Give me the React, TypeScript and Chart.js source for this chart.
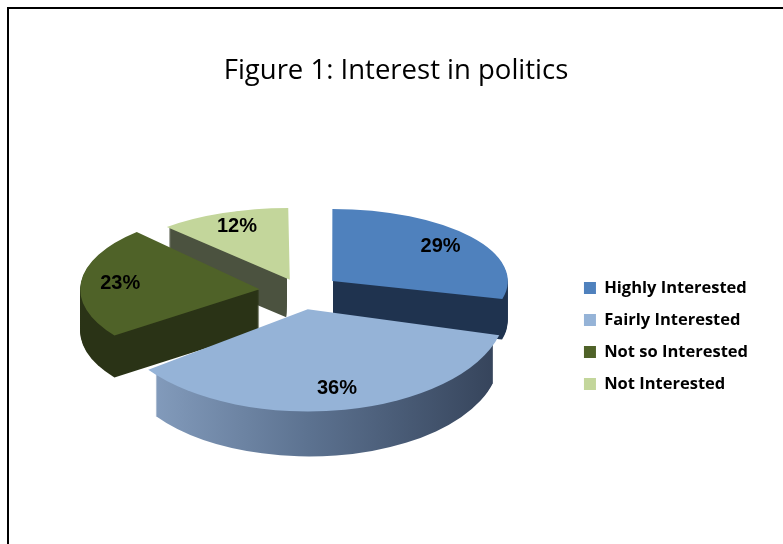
import React, { useEffect, useRef } from 'react';
import { Chart, registerables } from 'chart.js';

Chart.register(...registerables);

const TITLE = 'Figure 1: Interest in politics';
const CATEGORIES = ['Highly Interested', 'Fairly Interested', 'Not so Interested', 'Not Interested'];
const PERCENTAGES = [29, 36, 23, 12];
const TOP_COLORS = ['#4f81bd', '#95b3d7', '#4f6228', '#c3d69b'];
const SIDE_STOPS = [
  ['#1f334f', '#1f334f'],
  ['#8ba4c5', '#5c7290', '#35435a'],
  ['#2a3316', '#2a3316'],
  ['#4b523f', '#4b523f'],
];
const EXPLODE = [163, 136, 167, 128];

// view (pseudo-3D projection) settings
const VIEW = { cx: 301, cy: 291, tilt: 0.444, persH: 2500, persV: 700, depth: 42.5, labelR: 0.78 };

function sliceView(arc: any) {
  const { x, y, startAngle, endAngle, outerRadius } = arc;
  const circ = endAngle - startAngle;
  const off = (arc.options.offset || 0) / 4;
  const fix = 1 - Math.sin(Math.min(Math.PI, circ));
  const t = off * (1 + fix);
  const half = (startAngle + endAngle) / 2;
  const vx = x + Math.cos(half) * t;
  const vy = y + Math.sin(half) * t;
  const w = vy - y + Math.sin(half) * outerRadius * 0.5;
  const ph = VIEW.persH / (VIEW.persH - w);
  const pv = VIEW.persV / (VIEW.persV - w);
  return {
    vx, vy, half, R: outerRadius, startAngle, endAngle, ph, pv,
    sx: VIEW.cx + (vx - x) * ph,
    sy: VIEW.cy + (vy - y) * VIEW.tilt * pv,
    depth: VIEW.depth * ph,
  };
}

function applyView(ctx: CanvasRenderingContext2D, v: any, dy: number) {
  ctx.translate(v.sx, v.sy + dy);
  ctx.scale(v.ph, VIEW.tilt * v.pv);
  ctx.translate(-v.vx, -v.vy);
}

const pie3d = {
  id: 'pie3d',
  beforeDatasetsDraw(chart: any) {
    const ctx: CanvasRenderingContext2D = chart.ctx;
    const meta = chart.getDatasetMeta(0);
    const items = meta.data
      .map((arc: any, i: number) => ({ arc, i, v: sliceView(arc) }))
      .sort((a: any, b: any) => a.v.sy - b.v.sy);
    items.forEach(({ i, v }: any) => {
      for (let dy = Math.round(v.depth); dy >= 1; dy -= 1) {
        ctx.save();
        applyView(ctx, v, dy);
        const stops = SIDE_STOPS[i];
        const g = ctx.createLinearGradient(v.vx - v.R, 0, v.vx + v.R, 0);
        stops.forEach((c, k) => g.addColorStop(k / (stops.length - 1), c));
        ctx.fillStyle = g;
        ctx.beginPath();
        ctx.moveTo(v.vx, v.vy);
        ctx.arc(v.vx, v.vy, v.R, v.startAngle, v.endAngle);
        ctx.closePath();
        ctx.fill();
        ctx.restore();
      }
    });
    items.forEach(({ arc, v }: any) => {
      ctx.save();
      applyView(ctx, v, 0);
      arc.draw(ctx);
      ctx.restore();
    });
    ctx.save();
    ctx.font = 'bold 20px "Liberation Sans", Arial, sans-serif';
    ctx.fillStyle = '#000';
    ctx.textAlign = 'center';
    ctx.textBaseline = 'middle';
    const total = PERCENTAGES.reduce((a, b) => a + b, 0);
    items.forEach(({ i, v }: any) => {
      const r = v.R * VIEW.labelR;
      const lx = v.sx + Math.cos(v.half) * r * v.ph;
      const ly = v.sy + Math.sin(v.half) * r * VIEW.tilt * v.pv;
      ctx.fillText(Math.round((PERCENTAGES[i] / total) * 100) + '%', lx, ly);
    });
    ctx.restore();
    return false;
  },
};

const frame = {
  id: 'frame',
  afterDraw(chart: any) {
    const c: CanvasRenderingContext2D = chart.ctx;
    c.save();
    c.fillStyle = '#000';
    c.fillRect(7, 7, chart.width - 7, 2);
    c.fillRect(7, 7, 2, chart.height - 7);
    c.restore();
  },
};

export default function App() {
  const ref = useRef<HTMLCanvasElement | null>(null);
  useEffect(() => {
    if (!ref.current) return;
    const chart = new Chart(ref.current, {
      type: 'pie',
      data: {
        labels: CATEGORIES,
        datasets: [
          {
            data: PERCENTAGES,
            backgroundColor: TOP_COLORS,
            borderWidth: 0,
            offset: EXPLODE,
            radius: 180,
            clip: false,
          } as any,
        ],
      },
      options: {
        responsive: false,
        animation: false,
        events: [],
        layout: { padding: { left: 34, right: 25, top: 0, bottom: 10 } },
        plugins: {
          title: {
            display: true,
            text: TITLE,
            color: '#000',
            font: { family: '"Open Sans"', size: 27.5, weight: 'normal', lineHeight: 1.2 },
            padding: { top: 54.5, bottom: 50.5 },
          },
          legend: {
            position: 'right',
            fullSize: false,
            labels: {
              boxWidth: 12,
              boxHeight: 12,
              padding: 15.5,
              color: '#000',
              font: { family: '"Open Sans"', size: 16.5, weight: 'bold' },
            },
          },
          tooltip: { enabled: false },
        },
      } as any,
      plugins: [pie3d, frame],
    });
    return () => chart.destroy();
  }, []);
  return (
    <div style={{ position: 'fixed', left: 0, top: 0, width: 783, height: 544, background: '#fff' }}>
      <canvas ref={ref} width={783} height={544} style={{ display: 'block' }} />
    </div>
  );
}
